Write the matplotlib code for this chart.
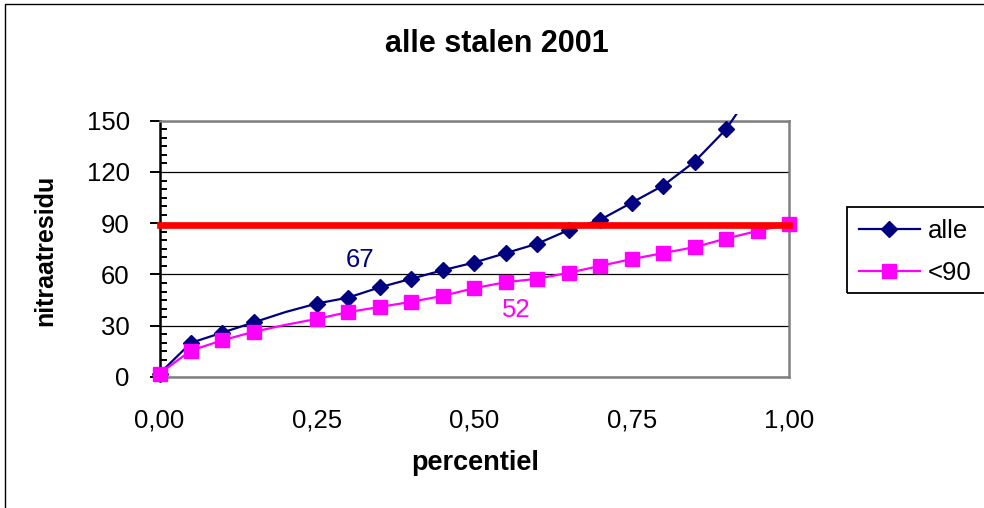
import matplotlib
matplotlib.use("Agg")
import matplotlib.pyplot as plt
from matplotlib.patches import Rectangle
from matplotlib.ticker import MultipleLocator, FixedLocator

plt.rcParams["font.family"] = ["Liberation Sans", "DejaVu Sans"]

# percentile curves of nitrate residue, 2001 samples
percentiel = [0.00, 0.05, 0.10, 0.15, 0.20, 0.25, 0.30, 0.35, 0.40, 0.45, 0.50,
              0.55, 0.60, 0.65, 0.70, 0.75, 0.80, 0.85, 0.90, 0.95, 1.00]
alle = [2, 20, 26, 32, 38, 43, 46.5, 52.5, 57.5, 62.5, 67,
        72.5, 78, 86, 92, 102, 112, 126, 145, 172, 250]
onder_90 = [2, 15.5, 21.5, 26.5, 30.5, 34, 38, 41, 44, 47.5, 52,
            55.5, 57.5, 61, 65, 69, 72.5, 76, 81, 85.5, 89.5]
norm = 89
x_ticks = [0.00, 0.25, 0.50, 0.75, 1.00]
x_labels = ["0,00", "0,25", "0,50", "0,75", "1,00"]
y_ticks = [0, 30, 60, 90, 120, 150]

NAVY = "#000080"
PINK = "#FF00FF"
W, H = 984, 508
FS = 18.5

def px(x, y):
    # pixel position -> figure fraction
    return x / W, 1 - y / H

fig = plt.figure(figsize=(W / 100, H / 100), dpi=100)
ax = fig.add_axes([159.5 / W, (H - 377) / H, (789 - 159.5) / W, (377 - 120.7) / H])

# markers skipped at 0.20
marks = [i for i in range(len(percentiel)) if i != 4]

l1, = ax.plot(percentiel, alle, color=NAVY, lw=1.6, marker="D", ms=8,
              markevery=marks, zorder=3)
# let the steep tail run a little past the top of the plot area
l1.set_clip_path(Rectangle((-0.05, -0.05), 1.1, 1.077, transform=ax.transAxes))
l2, = ax.plot(percentiel, onder_90, color=PINK, lw=1.6, marker="s", ms=10,
              markevery=marks, zorder=4, clip_on=False)
ax.plot([0, 1], [norm, norm], color="#FF0000", lw=4.8,
        solid_capstyle="projecting", zorder=5, clip_on=False)

ax.set_xlim(0, 1)
ax.set_ylim(0, 150)
ax.xaxis.set_major_locator(FixedLocator(x_ticks))
ax.set_xticklabels(x_labels)
ax.yaxis.set_major_locator(FixedLocator(y_ticks))
ax.yaxis.set_minor_locator(MultipleLocator(5))
ax.tick_params(axis="x", length=0, labelsize=FS, pad=23)
ax.tick_params(axis="y", which="major", direction="out", length=7.5,
               width=1.4, labelsize=FS, pad=14)
ax.tick_params(axis="y", which="minor", direction="in", length=5, width=1.4)

ax.grid(axis="y", color="black", lw=0.9)
ax.set_axisbelow(True)
for side in ["top", "right", "bottom"]:
    ax.spines[side].set_color("#808080")
    ax.spines[side].set_linewidth(1.8)
ax.spines["left"].set_color("black")
ax.spines["left"].set_linewidth(1.8)

ax.text(0.318, 68.5, f"{alle[10]:g}", color=NAVY, fontsize=FS,
        ha="center", va="center")
ax.text(0.567, 39.2, f"{onder_90[10]:g}", color=PINK, fontsize=FS,
        ha="center", va="center")

fig.text(*px(497, 44), "alle stalen 2001", fontsize=22, fontweight="bold",
         ha="center", va="center")
fig.text(*px(475, 463), "percentiel", fontsize=19.5, fontweight="bold",
         ha="center", va="center")
fig.text(*px(45, 250), "nitraatresidu", fontsize=18, fontweight="bold",
         ha="center", va="center", rotation=90)

leg = fig.legend([l1, l2], ["alle", "<90"], loc="upper left",
                 bbox_to_anchor=px(847, 207), borderaxespad=0, fontsize=FS,
                 frameon=False, handlelength=2.4, handletextpad=0.3,
                 labelspacing=0.7, borderpad=0.45)

# legend box runs off the right edge of the chart
fig.patches.append(Rectangle(px(847, 293), 0.2, 86 / H, transform=fig.transFigure,
                             fill=False, edgecolor="black", lw=1.3))

# chart frame
fig.patches.append(Rectangle(px(5, H + 20), 1.2, (H + 16) / H,
                             transform=fig.transFigure, fill=False,
                             edgecolor="black", lw=1.0))

fig.savefig("out.png", dpi=100, facecolor="white")
